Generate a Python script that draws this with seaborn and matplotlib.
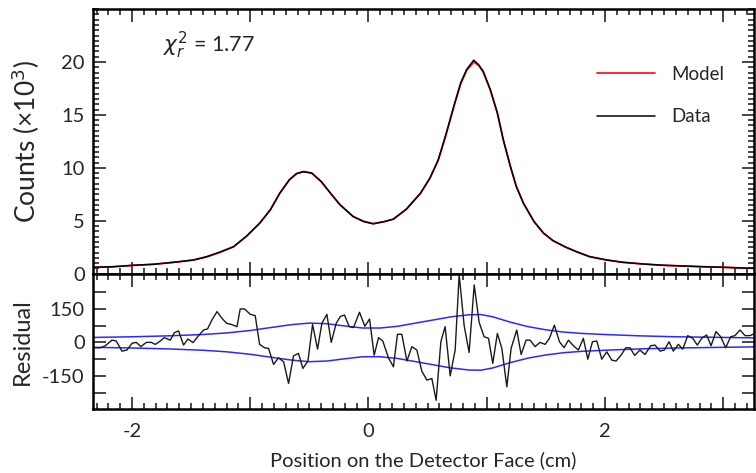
import matplotlib
matplotlib.use("Agg")
import matplotlib.pyplot as plt
import seaborn as sns
from matplotlib.ticker import FixedLocator, MultipleLocator, FuncFormatter

# detector profile, counts in units of 10^3
x_prof = [-2.33, -2.16, -1.99, -1.82, -1.65, -1.48, -1.37, -1.26, -1.14, -1.03,
          -0.92, -0.83, -0.75, -0.67, -0.61, -0.55, -0.48, -0.40, -0.31, -0.24,
          -0.13, -0.04, 0.04, 0.13, 0.21, 0.32, 0.44, 0.52, 0.59, 0.65,
          0.69, 0.73, 0.78, 0.83, 0.89, 0.93, 0.97, 1.03, 1.09, 1.14,
          1.20, 1.25, 1.31, 1.40, 1.48, 1.56, 1.67, 1.76, 1.87, 2.01,
          2.15, 2.32, 2.49, 2.66, 2.83, 3.00, 3.16, 3.26]
data_k = [0.61, 0.66, 0.80, 0.89, 1.08, 1.30, 1.61, 2.03, 2.56, 3.57,
          4.77, 6.03, 7.61, 8.87, 9.44, 9.63, 9.51, 8.71, 7.45, 6.51,
          5.40, 4.92, 4.71, 4.92, 5.15, 6.10, 7.61, 9.03, 10.77, 12.97,
          14.55, 16.14, 18.03, 19.29, 20.17, 19.76, 19.13, 17.40, 15.19, 12.66,
          10.13, 8.24, 6.67, 4.92, 3.83, 3.13, 2.50, 2.08, 1.61, 1.30,
          1.08, 0.92, 0.80, 0.73, 0.66, 0.61, 0.54, 0.51]
model_k = [0.60, 0.66, 0.79, 0.89, 1.07, 1.29, 1.58, 2.00, 2.55, 3.55,
           4.78, 6.05, 7.60, 8.85, 9.46, 9.66, 9.50, 8.70, 7.44, 6.50,
           5.41, 4.95, 4.74, 4.90, 5.16, 6.08, 7.60, 9.05, 10.72, 12.90,
           14.50, 16.10, 17.95, 19.20, 19.98, 19.70, 19.05, 17.35, 15.15, 12.64,
           10.15, 8.26, 6.66, 4.93, 3.84, 3.12, 2.50, 2.07, 1.62, 1.31,
           1.08, 0.92, 0.80, 0.73, 0.66, 0.61, 0.54, 0.51]

# residuals (counts)
x_res = [-2.325, -2.268, -2.226, -2.169, -2.133, -2.085, -2.042, -2.000, -1.964, -1.924,
         -1.879, -1.837, -1.803, -1.761, -1.727, -1.676, -1.642, -1.606, -1.564, -1.527,
         -1.484, -1.445, -1.395, -1.361, -1.324, -1.281, -1.239, -1.200, -1.160, -1.112,
         -1.085, -1.048, -1.000, -0.958, -0.921, -0.879, -0.845, -0.803, -0.761, -0.718,
         -0.676, -0.634, -0.592, -0.555, -0.512, -0.473, -0.431, -0.394, -0.352, -0.315,
         -0.273, -0.239, -0.203, -0.163, -0.127, -0.076, -0.031, 0.009, 0.048, 0.085,
         0.121, 0.169, 0.211, 0.245, 0.282, 0.325, 0.367, 0.409, 0.451, 0.494,
         0.536, 0.572, 0.612, 0.648, 0.691, 0.733, 0.767, 0.809, 0.851, 0.894,
         0.936, 0.978, 1.015, 1.051, 1.090, 1.128, 1.170, 1.206, 1.254, 1.291,
         1.333, 1.367, 1.409, 1.451, 1.494, 1.530, 1.572, 1.615, 1.654, 1.691,
         1.733, 1.775, 1.817, 1.855, 1.894, 1.931, 1.973, 2.015, 2.058, 2.094,
         2.136, 2.176, 2.212, 2.251, 2.296, 2.338, 2.387, 2.423, 2.466, 2.502,
         2.542, 2.578, 2.621, 2.658, 2.700, 2.742, 2.781, 2.818, 2.860, 2.897,
         2.939, 2.979, 3.021, 3.063, 3.099, 3.142, 3.184, 3.226, 3.268]
resid = [-24, -24, -15, 10, 6, -39, -34, -4, 0, -19,
         0, 0, -9, 6, 21, 10, 43, 51, -12, 15,
         -1, 25, 55, 60, 100, 137, 107, 85, 80, 70,
         149, 149, 125, 119, -9, -24, -27, -98, -69, -86,
         -183, -60, -49, -116, -83, 80, -30, 85, 125, 0,
         85, 115, 122, 70, 66, 134, 72, 104, -57, 21,
         6, -69, -109, 36, 36, -83, -19, -34, -128, -168,
         -161, -258, 3, 70, -149, -34, 301, 75, -45, 256,
         89, 25, 18, -94, 40, -27, -198, -27, 55, -54,
         10, 10, -19, 0, -9, 18, 77, 3, -24, 10,
         -15, -34, 18, -75, 3, 6, -75, -42, -79, -83,
         -57, -24, -24, -58, -34, -54, -15, -12, -39, -34,
         3, -39, -9, -30, 30, 18, -12, 18, 33, -15,
         48, 25, -24, 25, 30, 55, 30, 30, 40]

# one-sigma band half width (counts)
x_band = [-2.33, -2.0, -1.7, -1.4, -1.2, -1.0, -0.8, -0.65, -0.5, -0.35,
          -0.2, -0.05, 0.1, 0.25, 0.4, 0.55, 0.7, 0.85, 0.95, 1.05,
          1.2, 1.35, 1.5, 1.65, 1.8, 2.0, 2.3, 2.6, 3.0, 3.26]
band = [22, 25, 29, 35, 42, 53, 68, 79, 86, 83,
        73, 64, 64, 72, 86, 100, 114, 123, 124, 114,
        90, 70, 56, 46, 40, 35, 29, 25, 22, 20]

sns.set_theme(style="ticks")
plt.rcParams["font.family"] = ["Lato", "DejaVu Sans"]
plt.rcParams["mathtext.fontset"] = "dejavusans"

fig = plt.figure(figsize=(7.56, 4.73), dpi=100)
ax1 = fig.add_axes([0.123, 0.4213, 0.8743, 0.5596])
ax2 = fig.add_axes([0.123, 0.1347, 0.8743, 0.2867], sharex=ax1)

sns.lineplot(x=x_prof, y=model_k, ax=ax1, color="#ff1a1a", lw=1.3, label="Model", sort=False)
sns.lineplot(x=x_prof, y=data_k, ax=ax1, color="black", lw=1.1, label="Data", sort=False)

sns.lineplot(x=x_band, y=band, ax=ax2, color="#2a2aff", lw=1.1, sort=False)
sns.lineplot(x=x_band, y=[-b for b in band], ax=ax2, color="#2a2aff", lw=1.1, sort=False)
sns.lineplot(x=x_res, y=resid, ax=ax2, color="#1a1a1a", lw=1.0, sort=False)

ax1.set_xlim(-2.33, 3.26)
ax1.set_ylim(0, 25)
ax2.set_ylim(-298, 306)

ax1.xaxis.set_major_locator(MultipleLocator(1))
ax1.xaxis.set_minor_locator(MultipleLocator(0.1))
ax1.yaxis.set_major_locator(FixedLocator([0, 5, 10, 15, 20]))
ax1.yaxis.set_minor_locator(MultipleLocator(0.5))
ax2.yaxis.set_major_locator(FixedLocator([-225, -150, -75, 0, 75, 150, 225]))
ax2.yaxis.set_major_formatter(FuncFormatter(lambda v, p: f"{int(v)}" if v % 150 == 0 else ""))
ax2.xaxis.set_major_formatter(FuncFormatter(lambda v, p: f"{int(round(v))}" if round(v) % 2 == 0 else ""))

for ax in (ax1, ax2):
    ax.tick_params(which="both", direction="in", top=True, right=True, width=1.2, labelsize=14.5)
    ax.tick_params(which="major", length=9)
    ax.tick_params(which="minor", length=4.5)
    ax.tick_params(axis="y", pad=6)
    for s in ax.spines.values():
        s.set_linewidth(1.8)
        s.set_color("black")
ax1.tick_params(labelbottom=False)
ax2.tick_params(axis="x", pad=10)

ax1.set_ylabel("Counts (×10$^3$)", fontsize=19)
ax2.set_ylabel("Residual", fontsize=17)
ax1.yaxis.set_label_coords(-0.077, 0.5)
ax2.yaxis.set_label_coords(-0.091, 0.5)
ax2.set_xlabel("Position on the Detector Face (cm)", fontsize=14.5, labelpad=8)

ax1.text(0.106, 0.864, r"$\chi_r^2$ = 1.77", transform=ax1.transAxes, fontsize=15.5, va="center")

ax1.legend(loc="upper left", bbox_to_anchor=(0.762, 0.785), frameon=False, fontsize=13.5,
           handlelength=3.1, handletextpad=0.9, labelspacing=1.35, borderpad=0, borderaxespad=0)

fig.savefig("out.png", dpi=100)
